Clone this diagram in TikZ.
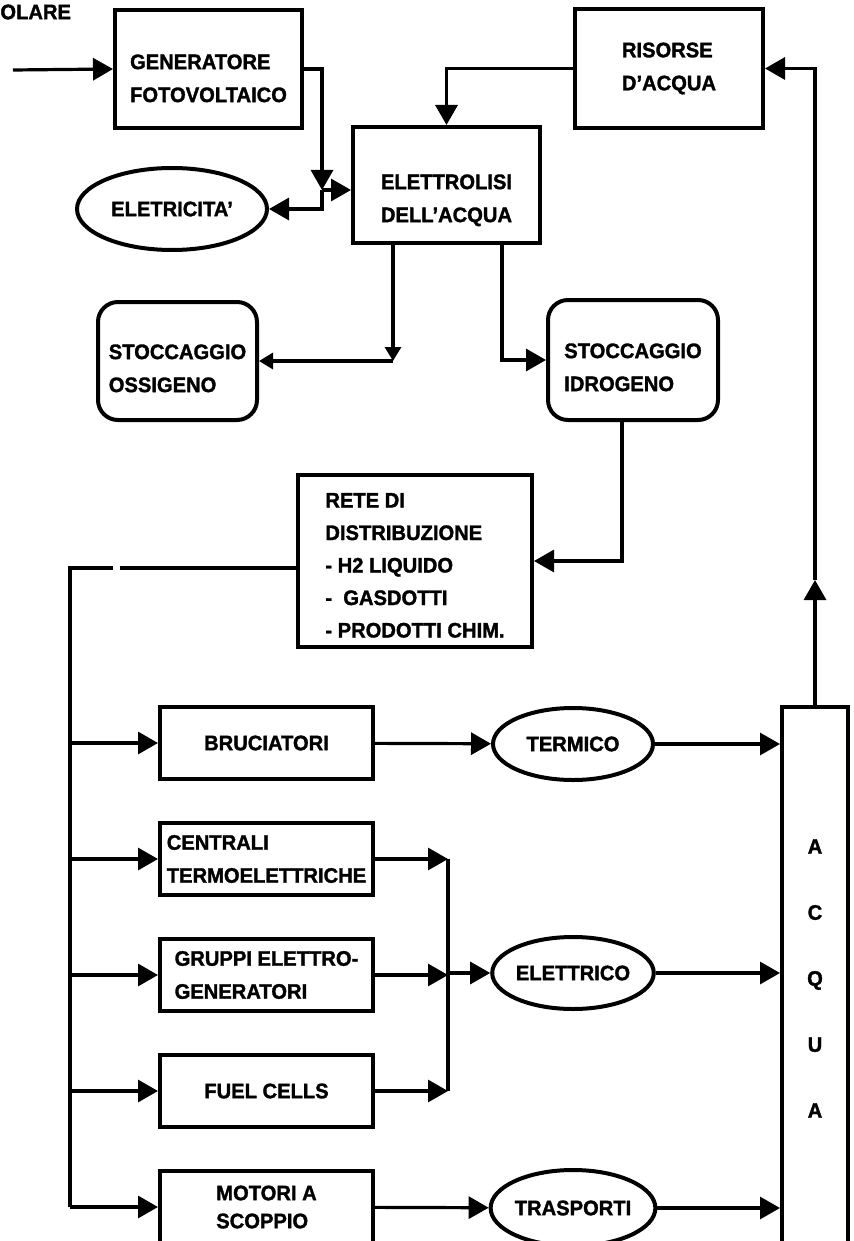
\documentclass[tikz,border=0pt]{standalone}
\usepackage{fontspec}
\setmainfont{Liberation Sans}[FakeStretch=0.96, BoldFeatures={FakeBold=1.5}]
\usetikzlibrary{arrows.meta,positioning,shapes.geometric}

% text block pushed down inside its box, box size unchanged
\newcommand{\lowtext}[2]{\raisebox{-#1}[\height][\depth]{\begin{tabular}{@{}l@{}}#2\end{tabular}}}

\begin{document}
\begin{tikzpicture}[
  x=0.5pt, y=-0.5pt,
  font=\bfseries\fontsize{10.5}{16.5}\selectfont,
  blk/.style={draw, line width=2pt, align=left, inner sep=2pt},
  rblk/.style={blk, rounded corners=10pt},
  col/.style={blk, minimum width=106.5pt, minimum height=36pt},
  oval/.style={draw, ellipse, line width=2pt, inner sep=0pt, minimum width=80pt, minimum height=36pt},
  arr/.style={-{Triangle[length=10pt,width=11pt]}, line width=1.6pt},
  arrs/.style={-{Triangle[length=7pt,width=8pt]}, line width=1.6pt},
  ln/.style={line width=1.6pt}
]
\useasboundingbox (0,0) rectangle (854,1241);
\fill[white] (0,0) rectangle (854,1241);
\clip (0,0) rectangle (854,1241);

% Solar input and generator
\node[anchor=west, inner sep=0pt] (sol) at (0,12) {OLARE};
\coordinate (sun) at (13,70);
\node[blk, minimum width=93.5pt, minimum height=59pt] (gen) at (208.5,69) {\lowtext{5pt}{GENERATORE\\FOTOVOLTAICO}};

% Electrolysis and water resources
\node[blk, minimum width=93.5pt, minimum height=58pt] (elet) at (446.5,185) {\lowtext{7pt}{ELETTROLISI\\DELL'ACQUA}};
\node[blk, minimum width=94pt, minimum height=59.5pt] (ris) at (669,68.5) {RISORSE\\D'ACQUA};
\node[oval, minimum width=95pt, minimum height=41pt] (ele) at (172,209) {ELETRICITA'};
\coordinate (jn) at (322,190);

\draw[arr] (sun) -- (gen.west);
\draw[arr] (gen.east) -| (jn);
\draw[arr] (jn) -- (jn -| elet.west);
\draw[arr] (jn) |- (ele.east);
\draw[arr] (ris.west) -| (elet.north);

% Storage
\node[rblk, minimum width=79.5pt, minimum height=59pt] (oss) at (177.5,361) {\lowtext{4pt}{STOCCAGGIO\\OSSIGENO}};
\node[rblk, minimum width=85pt, minimum height=60pt] (idro) at (633,360) {\lowtext{4pt}{STOCCAGGIO\\IDROGENO}};
\coordinate (oxtop) at ([xshift=-26.75pt]elet.south);
\coordinate (oxj) at (oxtop |- oss.east);
\draw[arrs] (oxtop) -- (oxj);
\draw[arrs] (oxj) -- (oss.east);
\draw[arr] ([xshift=27.75pt]elet.south) |- (idro.west);

% Distribution network
\node[blk, minimum width=117pt, minimum height=86pt, font=\bfseries\fontsize{10.5}{16.25}\selectfont] (rete) at (415,561)
  {\lowtext{2.5pt}{RETE DI\\DISTRIBUZIONE\\- H2 LIQUIDO\\- \ GASDOTTI\\- PRODOTTI CHIM.}};
\draw[arr] ([xshift=-5.5pt]idro.south) |- (rete.east);

% Users
\node[col] (bru) at (266.5,743) {BRUCIATORI};
\node[col, below=20pt of bru] (cen) {CENTRALI\\TERMOELETTRICHE};
\node[col, below=20pt of cen] (gru) {GRUPPI ELETTRO-\\GENERATORI};
\node[col, below=20pt of gru] (fuel) {FUEL CELLS};
\node[col, below=20pt of fuel] (mot) {MOTORI A\\[-2.5pt]SCOPPIO};

% Bus from the network
\coordinate (gapr) at (120,568);
\coordinate (gapl) at (113,568);
\coordinate (bus) at (70,568);
\draw[ln] ([yshift=-3.5pt]rete.west) -- (gapr);
\draw[ln] (gapl) -- (bus) -- (bus |- mot.west);
\foreach \n in {bru,cen,gru,fuel,mot}
  \draw[arr] (bus |- \n.west) -- (\n.west);

% Final uses and water
\node[oval] (term) at (573,744) {TERMICO};
\node[oval] (elt) at (573,973) {ELETTRICO};
\node[oval, minimum height=38pt] (tra) at (573,1208) {TRASPORTI};
\node[blk, minimum width=33pt, minimum height=271.5pt, align=center, font=\bfseries\fontsize{10.5}{33}\selectfont] (acq) at (815,978.5) {A\\C\\Q\\U\\A};

\coordinate (colx) at (448,860);
\draw[arr] (bru) -- (term);
\foreach \n in {cen,gru,fuel}
  \draw[arr] (\n.east) -- (\n.east -| colx);
\draw[ln] (cen.east -| colx) -- (fuel.east -| colx);
\draw[arr] (elt.west -| colx) -- (elt.west);
\draw[arr] (mot) -- (tra);
\foreach \n in {term,elt,tra}
  \draw[arr] (\n.east) -- (\n.east -| acq.west);

% water back to resources
\coordinate (wup) at (815,580);
\draw[arr] (acq.north) -- (wup);
\draw[arr] (wup) |- (ris.east);

\end{tikzpicture}
\end{document}
